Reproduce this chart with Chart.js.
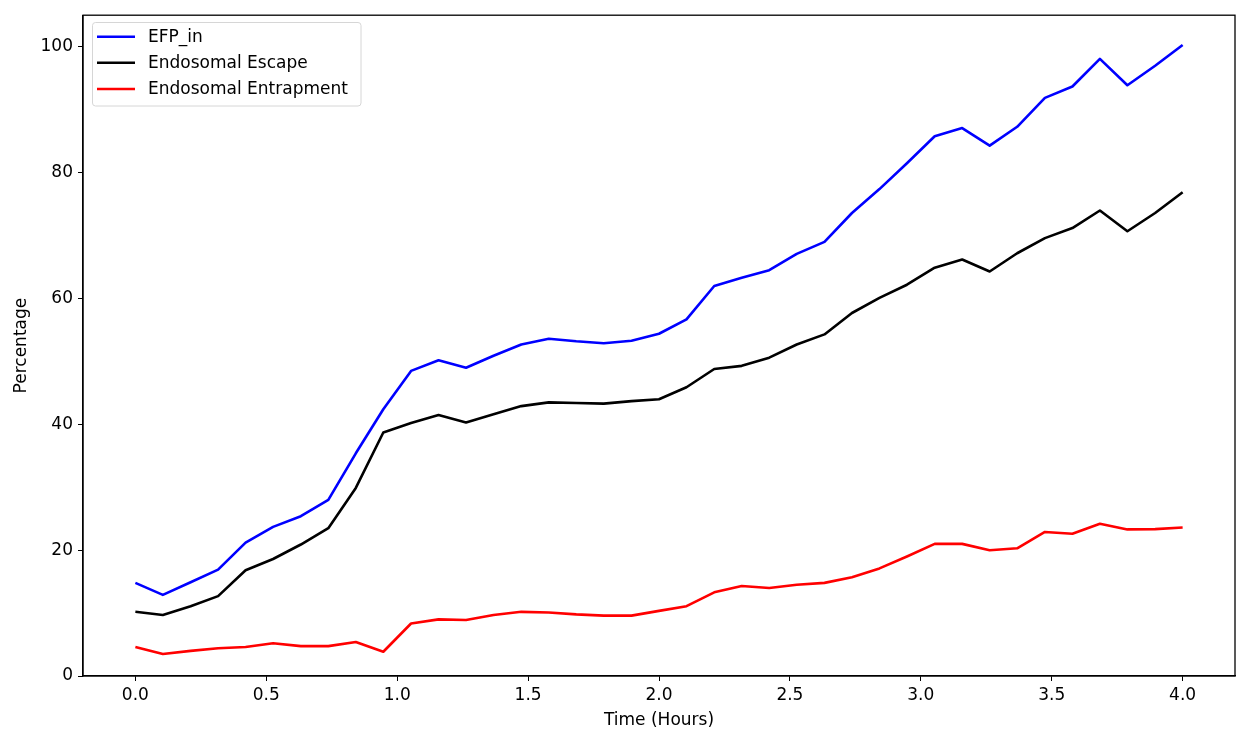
<!DOCTYPE html>
<html>
<head>
<meta charset="utf-8">
<script src="https://cdn.jsdelivr.net/npm/chart.js@4/dist/chart.umd.min.js"></script>
<style>
  html, body { margin: 0; padding: 0; background: #fff; }
  #wrap { width: 1246px; height: 743px; }
</style>
</head>
<body>
<div id="wrap"><canvas id="c" width="1246" height="743"></canvas></div>
<script>
const timeHours = [0.000, 0.105, 0.211, 0.316, 0.421, 0.526, 0.632, 0.737, 0.842, 0.947,
  1.053, 1.158, 1.263, 1.368, 1.474, 1.579, 1.684, 1.789, 1.895, 2.000,
  2.105, 2.211, 2.316, 2.421, 2.526, 2.632, 2.737, 2.842, 2.947, 3.053,
  3.158, 3.263, 3.368, 3.474, 3.579, 3.684, 3.789, 3.895, 4.000];

const efpIn = [14.8, 12.9, 14.9, 16.9, 21.2, 23.7, 25.4, 28.0, 35.4, 42.4,
  48.5, 50.2, 49.0, 50.9, 52.7, 53.6, 53.2, 52.9, 53.3, 54.4,
  56.7, 62.0, 63.3, 64.5, 67.1, 69.0, 73.6, 77.4, 81.5, 85.8,
  87.1, 84.3, 87.3, 91.9, 93.7, 98.1, 93.9, 97.0, 100.3];

const endosomalEscape = [10.2, 9.7, 11.1, 12.7, 16.8, 18.6, 20.9, 23.5, 29.9, 38.7,
  40.2, 41.5, 40.3, 41.6, 42.9, 43.5, 43.4, 43.3, 43.7, 44.0,
  45.9, 48.8, 49.3, 50.6, 52.7, 54.3, 57.7, 60.1, 62.2, 64.9,
  66.2, 64.3, 67.2, 69.6, 71.2, 74.0, 70.7, 73.6, 76.9];

const endosomalEntrapment = [4.6, 3.5, 4.0, 4.4, 4.6, 5.2, 4.75, 4.75, 5.4, 3.85,
  8.35, 9.0, 8.9, 9.7, 10.2, 10.1, 9.8, 9.6, 9.6, 10.35,
  11.1, 13.3, 14.3, 14.0, 14.5, 14.8, 15.7, 17.1, 19.0, 21.0,
  21.0, 20.0, 20.3, 22.9, 22.6, 24.2, 23.3, 23.35, 23.6];

const seriesLabels = ['EFP_in', 'Endosomal Escape', 'Endosomal Entrapment'];
const seriesColors = ['#0000ff', '#000000', '#ff0000'];
const xTicks = [0.0, 0.5, 1.0, 1.5, 2.0, 2.5, 3.0, 3.5, 4.0];
const yTicks = [0, 20, 40, 60, 80, 100];

const FONT = 'DejaVu Sans';
const FSIZE = 17;

function pts(vals) { return vals.map((v, i) => ({ x: timeHours[i], y: v })); }

const frameAndLegend = {
  id: 'frameAndLegend',
  afterDraw(chart) {
    const ctx = chart.ctx;
    const a = chart.chartArea;
    ctx.save();
    ctx.strokeStyle = '#000';
    ctx.lineWidth = 1.3;
    ctx.strokeRect(a.left, a.top, a.right - a.left, a.bottom - a.top);

    // legend
    const bx = 92.5, by = 22.5, bw = 268.5, bh = 83.5, r = 3;
    ctx.beginPath();
    ctx.moveTo(bx + r, by);
    ctx.lineTo(bx + bw - r, by);
    ctx.arcTo(bx + bw, by, bx + bw, by + r, r);
    ctx.lineTo(bx + bw, by + bh - r);
    ctx.arcTo(bx + bw, by + bh, bx + bw - r, by + bh, r);
    ctx.lineTo(bx + r, by + bh);
    ctx.arcTo(bx, by + bh, bx, by + bh - r, r);
    ctx.lineTo(bx, by + r);
    ctx.arcTo(bx, by, bx + r, by, r);
    ctx.closePath();
    ctx.fillStyle = 'rgba(255,255,255,0.8)';
    ctx.fill();
    ctx.strokeStyle = '#d6d6d6';
    ctx.lineWidth = 1;
    ctx.stroke();

    const rows = [36.7, 62.7, 89];
    chart.data.datasets.forEach((ds, i) => {
      ctx.beginPath();
      ctx.strokeStyle = ds.borderColor;
      ctx.lineWidth = 2.6;
      ctx.moveTo(97, rows[i]);
      ctx.lineTo(135, rows[i]);
      ctx.stroke();
      ctx.fillStyle = '#000';
      ctx.font = FSIZE + 'px "' + FONT + '"';
      ctx.textBaseline = 'middle';
      ctx.textAlign = 'left';
      ctx.fillText(ds.label, 148, rows[i] + 0.5);
    });
    ctx.restore();
  }
};

new Chart(document.getElementById('c'), {
  type: 'line',
  data: {
    datasets: [
      { label: seriesLabels[0], data: pts(efpIn), borderColor: seriesColors[0] },
      { label: seriesLabels[1], data: pts(endosomalEscape), borderColor: seriesColors[1] },
      { label: seriesLabels[2], data: pts(endosomalEntrapment), borderColor: seriesColors[2] }
    ].map(d => Object.assign(d, {
      borderWidth: 2.6, pointRadius: 0, tension: 0, fill: false,
      backgroundColor: d.borderColor, borderJoinStyle: 'round', borderCapStyle: 'butt'
    }))
  },
  options: {
    responsive: false,
    animation: false,
    devicePixelRatio: 1,
    layout: { padding: { left: 0, right: 11, top: 13, bottom: 0 } },
    plugins: { legend: { display: false }, tooltip: { enabled: false } },
    scales: {
      x: {
        type: 'linear',
        min: -0.2, max: 4.2,
        afterBuildTicks: s => { s.ticks = xTicks.map(v => ({ value: v })); },
        afterFit: s => { s.height = 67; },
        grid: { drawOnChartArea: false, drawTicks: true, tickLength: 5, tickColor: '#000', tickWidth: 1 },
        border: { display: true, color: '#000', width: 1.3 },
        ticks: {
          color: '#000', padding: 4, maxRotation: 0,
          font: { family: FONT, size: FSIZE },
          callback: v => Number(v).toFixed(1)
        },
        title: {
          display: true, text: 'Time (Hours)', color: '#000',
          font: { family: FONT, size: FSIZE }, padding: { top: 0, bottom: 12 }
        }
      },
      y: {
        type: 'linear',
        min: 0, max: 105.04,
        afterBuildTicks: s => { s.ticks = yTicks.map(v => ({ value: v })); },
        afterFit: s => { s.width = 83; },
        grid: { drawOnChartArea: false, drawTicks: true, tickLength: 5, tickColor: '#000', tickWidth: 1 },
        border: { display: true, color: '#000', width: 1.3 },
        ticks: {
          color: '#000', padding: 5,
          font: { family: FONT, size: FSIZE },
          callback: v => String(v)
        },
        title: {
          display: true, text: 'Percentage', color: '#000',
          font: { family: FONT, size: FSIZE }, padding: { top: 11, bottom: 0 }
        }
      }
    }
  },
  plugins: [frameAndLegend]
});
</script>
</body>
</html>
